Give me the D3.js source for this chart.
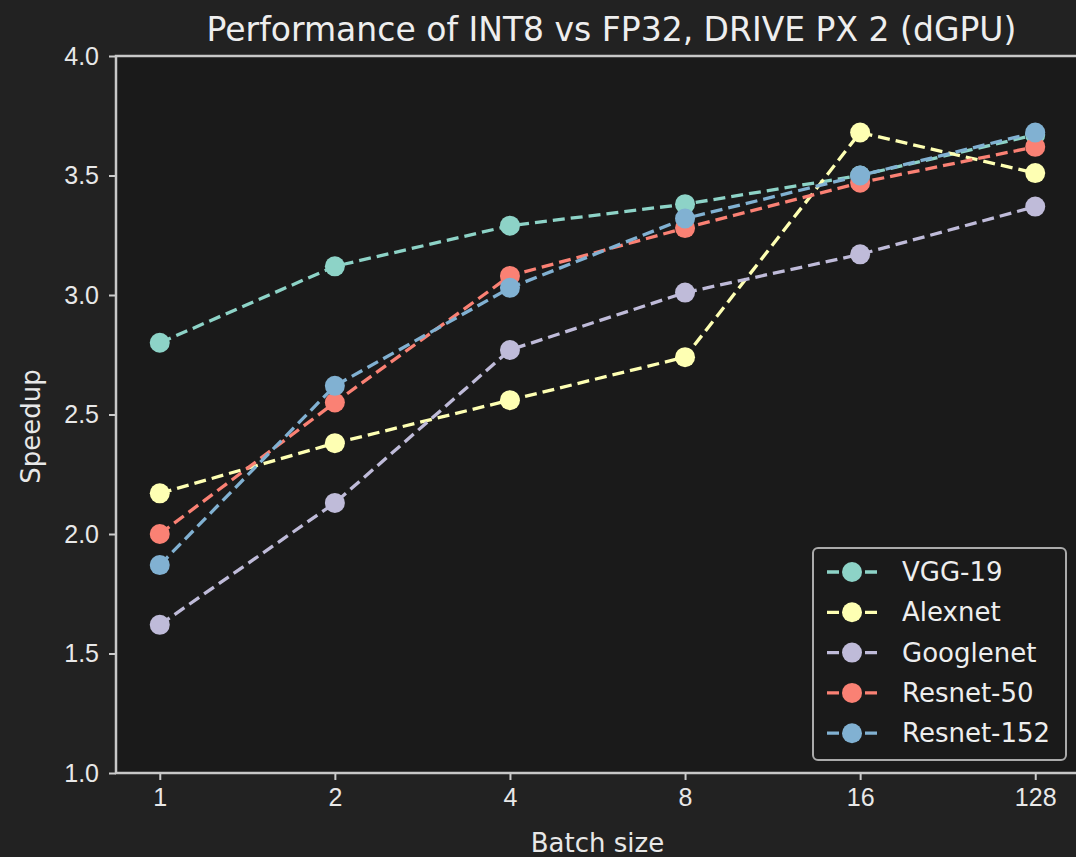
<!DOCTYPE html>
<html>
<head>
<meta charset="utf-8">
<script src="https://cdn.jsdelivr.net/npm/d3@7"></script>
<style>
  body { margin: 0; background: #222222; overflow: hidden; }
  svg { display: block; font-family: "DejaVu Sans", sans-serif; }
</style>
</head>
<body>
<svg width="1076" height="857"></svg>
<script>
// batch sizes (categorical positions)
const batches = ['1', '2', '4', '8', '16', '128']
const names = ['VGG-19', 'Alexnet', 'Googlenet', 'Resnet-50', 'Resnet-152']
const colors = ['#8dd3c7', '#feffb3', '#bfbbd9', '#fa8174', '#81b1d2']

const vgg19     = [2.80, 3.12, 3.29, 3.38, 3.50, 3.67]
const alexnet   = [2.17, 2.38, 2.56, 2.74, 3.68, 3.51]
const googlenet = [1.62, 2.13, 2.77, 3.01, 3.17, 3.37]
const resnet50  = [2.00, 2.55, 3.08, 3.28, 3.47, 3.62]
const resnet152 = [1.87, 2.62, 3.03, 3.32, 3.50, 3.68]
const series = [vgg19, alexnet, googlenet, resnet50, resnet152]

const yTicks = [1.0, 1.5, 2.0, 2.5, 3.0, 3.5, 4.0]

function draw() {
  const svg = d3.select('svg')
  const left = 116, right = 1079, top = 56, bottom = 773

  const x = d3.scaleLinear().domain([-0.25, batches.length - 0.75]).range([left, right])
  const y = d3.scaleLinear().domain([1, 4]).range([bottom, top])

  svg.append('rect')
    .attr('x', left).attr('y', top)
    .attr('width', right - left).attr('height', bottom - top)
    .attr('fill', '#1a1a1a')

  // x axis
  const xAxis = d3.axisBottom(x)
    .tickValues(d3.range(batches.length))
    .tickFormat(i => batches[i])
    .tickSize(7).tickPadding(8)
  const gx = svg.append('g').attr('transform', `translate(0,${bottom})`).call(xAxis)
  // y axis
  const yAxis = d3.axisLeft(y).tickValues(yTicks).tickFormat(d3.format('.1f'))
    .tickSize(7).tickPadding(10)
  const gy = svg.append('g').attr('transform', `translate(${left},0)`).call(yAxis)

  for (const g of [gx, gy]) {
    g.select('.domain').remove()
    g.selectAll('line').attr('stroke', '#cccccc').attr('stroke-width', 2)
    g.selectAll('text').attr('fill', '#e8e8e8').style('font-size', '25px')
  }

  // spines
  svg.append('rect')
    .attr('x', left).attr('y', top)
    .attr('width', right - left).attr('height', bottom - top)
    .attr('fill', 'none').attr('stroke', '#c8c8c8').attr('stroke-width', 2.5)

  const line = d3.line().x((d, i) => x(i)).y(d => y(d))

  series.forEach((s, k) => {
    const g = svg.append('g')
    g.append('path')
      .datum(s)
      .attr('d', line)
      .attr('fill', 'none')
      .attr('stroke', colors[k])
      .attr('stroke-width', 3.3)
      .attr('stroke-dasharray', '12,6')
    g.selectAll('circle')
      .data(s)
      .join('circle')
      .attr('cx', (d, i) => x(i))
      .attr('cy', d => y(d))
      .attr('r', 10)
      .attr('fill', colors[k])
  })

  // title and labels
  svg.append('text')
    .attr('x', (left + right) / 2 + 14).attr('y', 41)
    .attr('text-anchor', 'middle')
    .attr('fill', '#eeeeee').style('font-size', '33px')
    .text('Performance of INT8 vs FP32, DRIVE PX 2 (dGPU)')
  svg.append('text')
    .attr('x', (left + right) / 2).attr('y', 852)
    .attr('text-anchor', 'middle')
    .attr('fill', '#e8e8e8').style('font-size', '26px')
    .text('Batch size')
  svg.append('text')
    .attr('transform', `translate(40,${(top + bottom) / 2 + 12}) rotate(-90)`)
    .attr('text-anchor', 'middle')
    .attr('fill', '#e8e8e8').style('font-size', '26px')
    .text('Speedup')

  // legend
  const lg = svg.append('g').attr('transform', 'translate(813,548)')
  lg.append('rect')
    .attr('width', 253).attr('height', 212).attr('rx', 5)
    .attr('fill', '#1a1a1a').attr('stroke', '#aaaaaa').attr('stroke-width', 2)
  names.forEach((n, k) => {
    const yy = 24 + k * 40.3
    lg.append('line')
      .attr('x1', 14).attr('x2', 64).attr('y1', yy).attr('y2', yy)
      .attr('stroke', colors[k]).attr('stroke-width', 3.3)
      .attr('stroke-dasharray', '12,26')
    lg.append('circle').attr('cx', 39).attr('cy', yy).attr('r', 10).attr('fill', colors[k])
    lg.append('text')
      .attr('x', 89).attr('y', yy + 9)
      .attr('fill', '#eeeeee').style('font-size', '26px')
      .text(n)
  })
}

draw()
</script>
</body>
</html>
